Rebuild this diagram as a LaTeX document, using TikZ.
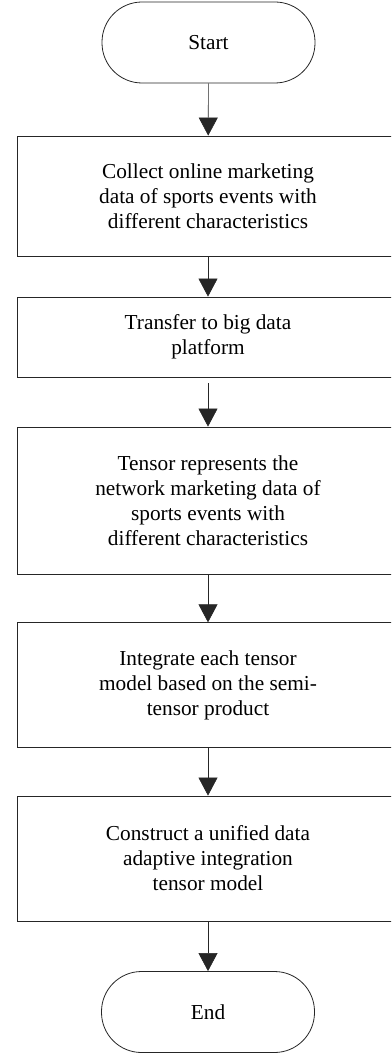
\documentclass[tikz,border=0pt]{standalone}
\usepackage{fontspec}
\setmainfont{Liberation Serif}
\usetikzlibrary{arrows.meta,positioning}

\begin{document}
\begin{tikzpicture}[x=1pt,y=-1pt,
    font=\fontsize{21.3}{25}\selectfont,
    line width=0.8pt, draw=black!85,
    stepbox/.style={draw=black!85, rectangle, minimum width=382pt, align=center, inner sep=0pt},
    terminal/.style={draw=black!85, rectangle, rounded corners=40pt, minimum width=213pt, minimum height=81pt},
    flow/.style={draw=black!85, line width=0.6pt, -{Triangle[length=18pt,width=19pt]}}]
    \useasboundingbox (0,0) rectangle (391,1056);
    \clip (0,0) rectangle (391,1056);

    % Terminals
    \node[terminal] (start) at (208.5,42.5) {Start};
    \node[terminal] (stop) at (208,1012) {End};

    % Process steps
    \node[stepbox, minimum height=120pt] (collect) at (208,196)
        {Collect online marketing\\data of sports events with\\different characteristics};
    \node[stepbox, minimum height=80pt] (transfer) at (208,337)
        {Transfer to big data\\platform};
    \node[stepbox, minimum height=147pt] (tensor) at (208,500.5)
        {Tensor represents the\\network marketing data of\\sports events with\\different characteristics};
    \node[stepbox, minimum height=124.5pt] (integrate) at (208,685)
        {Integrate each tensor\\model based on the semi-\\tensor product};
    \node[stepbox, minimum height=125pt] (construct) at (208,858.5)
        {Construct a unified data\\adaptive integration\\tensor model};

    % Arrows
    \draw[flow] (start) -- (collect);
    \draw[flow] (collect) -- (transfer);
    \draw[flow, shorten <=6pt] (transfer) -- (tensor);
    \draw[flow] (tensor) -- (integrate);
    \draw[flow] (integrate) -- (construct);
    \draw[flow] (construct) -- (stop);
  \end{tikzpicture}
\end{document}
